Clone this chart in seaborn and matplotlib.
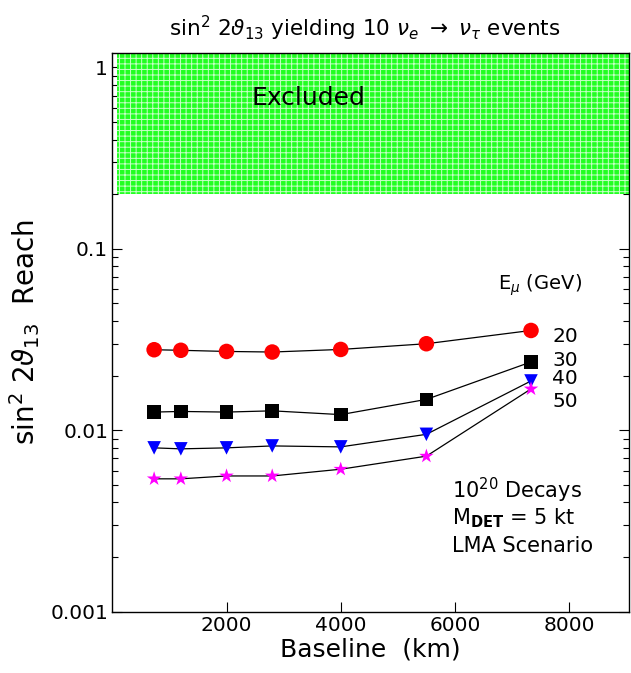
import numpy as np
import pandas as pd
import matplotlib
matplotlib.use("Agg")
import matplotlib.pyplot as plt
import matplotlib.ticker as mticker
import seaborn as sns

# ---- data ----
baseline = [732, 1200, 2000, 2800, 4000, 5500, 7332]
energies = ["20", "30", "40", "50"]
reach_20 = [0.0278, 0.0276, 0.0272, 0.0270, 0.0279, 0.0300, 0.0355]
reach_30 = [0.0126, 0.0127, 0.0126, 0.0128, 0.0122, 0.0148, 0.0238]
reach_40 = [0.0080, 0.0079, 0.0080, 0.0082, 0.0081, 0.0095, 0.0187]
reach_50 = [0.0054, 0.0054, 0.0056, 0.0056, 0.0061, 0.0072, 0.0169]
excl_x = [80, 9050]
excl_lo, excl_hi = 0.2, 1.25
xticks = [2000, 4000, 6000, 8000]
yticks = [0.001, 0.01, 0.1, 1]
ytick_labels = ["0.001", "0.01", "0.1", "1"]

series = [reach_20, reach_30, reach_40, reach_50]
colors = ["#ff0000", "#000000", "#0000ff", "#ff00ff"]
markers = ["o", "s", "v", "*"]
msizes = [125, 95, 95, 120]

sns.set_theme(style="ticks")
plt.rcParams["font.family"] = ["DejaVu Sans"]
plt.rcParams["mathtext.fontset"] = "dejavusans"
plt.rcParams["hatch.linewidth"] = 0.7
for k in ["text.color", "axes.labelcolor", "xtick.color", "ytick.color",
          "xtick.labelcolor", "ytick.labelcolor"]:
    plt.rcParams[k] = "black"

fig = plt.figure(figsize=(6.31, 6.73), dpi=100)
ax = fig.add_axes([0.178, 0.0911, 0.819, 0.830])

# excluded region
ax.fill_between(excl_x, excl_lo, excl_hi, facecolor="#22ff22",
                edgecolor="#c8ffc8", hatch="+++", linewidth=0, zorder=1)

for e, vals, c, m, s in zip(energies, series, colors, markers, msizes):
    df = pd.DataFrame({"Baseline": baseline, "Reach": vals})
    sns.lineplot(data=df, x="Baseline", y="Reach", color="black",
                 linewidth=0.9, ax=ax, zorder=2)
    sns.scatterplot(data=df, x="Baseline", y="Reach", marker=m, color=c,
                    s=s, edgecolor="none", linewidth=0, ax=ax, zorder=3)

ax.set_yscale("log")
ax.set_xlim(0, 9050)
ax.set_ylim(0.001, 1.2)
ax.set_xticks(xticks)
ax.set_xticklabels([str(t) for t in xticks])
ax.yaxis.set_major_locator(mticker.FixedLocator(yticks))
ax.yaxis.set_major_formatter(mticker.FixedFormatter(ytick_labels))
ax.yaxis.set_minor_locator(mticker.LogLocator(base=10, subs=np.arange(2, 10)))
ax.yaxis.set_minor_formatter(mticker.NullFormatter())
ax.xaxis.set_minor_locator(mticker.NullLocator())

ax.tick_params(axis="both", which="major", direction="in", length=7.5,
               width=0.8, top=True, right=True, labelsize=14.5, pad=3,
               colors="black")
ax.tick_params(axis="y", which="minor", direction="in", length=4,
               width=0.8, right=True, left=True, colors="black")
for sp in ax.spines.values():
    sp.set_linewidth(1.0)
    sp.set_color("black")

ax.set_xlabel("Baseline  (km)", fontsize=18, labelpad=2, color="black")
ax.set_ylabel(r"sin$^2$ 2$\vartheta_{13}$  Reach", fontsize=20, labelpad=6,
              color="black")
fig.text(0.578, 0.958, r"sin$^2$ 2$\vartheta_{13}$ yielding 10 $\nu_e$ $\rightarrow$ $\nu_\tau$ events",
         ha="center", va="center", fontsize=15.5, color="black")

ax.text(3440, 0.68, "Excluded", ha="center", va="center", fontsize=18,
        zorder=4, color="black")
ax.text(6750, 0.0633, r"E$_\mu$ (GeV)", ha="left", va="center", fontsize=14,
        color="black")
for lab, yv in zip(energies, [0.0329, 0.0241, 0.0192, 0.01435]):
    ax.text(7700, yv, lab, ha="left", va="center", fontsize=14.5,
            color="black")

ax.text(0.657, 0.218, r"10$^{20}$ Decays", transform=ax.transAxes,
        ha="left", va="center", fontsize=15, color="black")
ax.text(0.657, 0.168, r"M$_{\mathbf{DET}}$ = 5 kt", transform=ax.transAxes,
        ha="left", va="center", fontsize=15, color="black")
ax.text(0.657, 0.118, "LMA Scenario", transform=ax.transAxes,
        ha="left", va="center", fontsize=15, color="black")

fig.savefig("out.png", dpi=100)
